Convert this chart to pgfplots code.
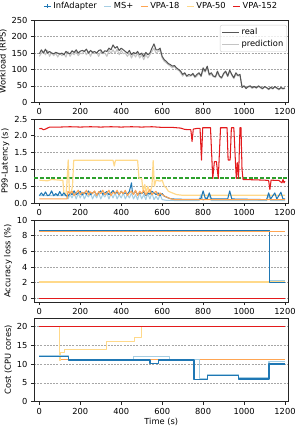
\documentclass[border=0pt]{standalone}
\usepackage{pgfplots}
\pgfplotsset{compat=1.18}
\usepackage{fontspec}
\setmainfont{DejaVu Sans}
\definecolor{cInf}{HTML}{1F77B4}
\definecolor{cMS}{HTML}{A6CEE3}
\definecolor{cV18}{HTML}{FFA552}
\definecolor{cV50}{HTML}{FFD98A}
\definecolor{cV152}{HTML}{E31A1C}
\definecolor{cGreen}{HTML}{2CA02C}
\definecolor{cReal}{HTML}{555555}
\definecolor{cPred}{HTML}{C4C4C4}
\pgfplotsset{
  panel/.style={
    scale only axis, width=254.5pt,
    xmin=-26, xmax=1217,
    xtick={0,200,...,1200},
    tick pos=left, tick align=outside, major tick length=3pt,
    ymajorgrids,
    grid style={dash pattern=on 2pt off 1.2pt, black!35, line width=0.6pt},
    axis line style={black!85, line width=0.7pt},
    every tick/.style={black!85, line width=0.7pt},
    /pgf/number format/assume math mode=true,
    /pgf/number format/1000 sep={},
    ylabel style={yshift=-2pt},
    every axis plot/.append style={line width=1.05pt, line join=round},
  }
}
\begin{document}
\begin{tikzpicture}[font=\fontsize{8.3}{10}\selectfont]
\useasboundingbox (0,0) rectangle (297pt,-428pt);

% ---------- Panel 1: workload
\begin{axis}[panel, at={(34pt,-20.3pt)}, anchor=north west, height=82pt,
  ymin=0, ymax=250, ytick={0,50,...,250},
  ylabel={Workload (RPS)},
  legend style={at={(0.994,0.943)}, anchor=north east, draw=black!20, rounded corners=2pt,
    fill=white, fill opacity=0.8, text opacity=1, inner sep=1.5pt, row sep=0pt},
  legend cell align=left, reverse legend,
  legend image code/.code={\draw[#1] (0pt,0pt) -- (17pt,0pt);},
]
\addplot[cPred] coordinates {
(0,140)(10,150)(20,155)(30,145)(40,158)(50,140)(60,152)(70,142)(80,150)(90,138)
(100,150)(110,142)(120,148)(130,138)(140,155)(150,140)(160,150)(170,145)(180,155)(190,142)
(200,150)(210,148)(220,158)(230,145)(240,155)(250,140)(260,155)(270,148)(280,152)(290,140)
(300,155)(310,148)(320,150)(330,140)(340,158)(350,150)(360,160)(370,150)(380,162)(390,145)
(400,158)(410,148)(420,150)(430,140)(440,150)(450,135)(460,148)(470,138)(480,150)(490,135)
(500,145)(510,130)(520,145)(530,135)(540,145)(550,155)(560,165)(570,150)(580,155)(590,158)
(600,135)(610,125)(620,120)(630,115)(640,110)(650,105)(660,110)(670,100)(680,98)(690,90)
(700,80)(710,88)(720,78)(730,80)(740,80)(750,85)(760,75)(770,80)(780,88)(790,78)
(800,98)(810,92)(820,105)(830,82)(840,85)(850,78)(860,75)(870,90)(880,78)(890,72)
(900,85)(910,92)(920,78)(930,95)(940,82)(950,72)(960,85)(970,80)(980,82)(990,50)
(1000,48)(1010,45)(1020,46)(1030,48)(1040,42)(1050,47)(1060,43)(1070,48)(1080,44)(1090,40)
(1100,46)(1110,44)(1120,38)(1130,44)(1140,40)(1150,46)(1160,42)(1170,38)(1180,43)(1190,40)(1200,42)
};
\addlegendentry{prediction}
\addplot[cReal] coordinates {
(0,148)(10,160)(20,150)(30,162)(40,150)(50,155)(60,150)(70,148)(80,152)(90,150)
(100,147)(110,150)(120,145)(130,155)(140,150)(150,148)(160,157)(170,152)(180,160)(190,150)
(200,156)(210,158)(220,155)(230,162)(240,150)(250,158)(260,152)(270,155)(280,150)(290,158)
(300,160)(310,150)(320,157)(330,155)(340,165)(350,160)(360,175)(370,165)(380,170)(390,158)
(400,165)(410,160)(420,155)(430,150)(440,158)(450,145)(460,152)(470,148)(480,155)(490,145)
(500,150)(510,140)(520,152)(530,145)(540,150)(550,165)(560,178)(570,160)(580,160)(590,165)
(600,140)(610,130)(620,125)(630,118)(640,115)(650,110)(660,112)(670,105)(680,100)(690,95)
(700,85)(710,90)(720,80)(730,85)(740,82)(750,88)(760,78)(770,85)(780,90)(790,80)
(800,105)(810,95)(820,110)(830,85)(840,90)(850,80)(860,78)(870,95)(880,80)(890,75)
(900,88)(910,95)(920,80)(930,98)(940,85)(950,75)(960,90)(970,82)(980,85)(990,45)
(1000,50)(1010,42)(1020,48)(1030,50)(1040,45)(1050,48)(1060,44)(1070,50)(1080,46)(1090,42)
(1100,48)(1110,45)(1120,40)(1130,46)(1140,42)(1150,48)(1160,44)(1170,40)(1180,45)(1190,42)(1200,44)
};
\addlegendentry{real}
\end{axis}

% ---------- Panel 2: latency
\begin{axis}[panel, at={(34pt,-119pt)}, anchor=north west, height=84pt,
  ymin=0, ymax=2.5, ytick={0,0.5,...,2.5},
  yticklabel style={/pgf/number format/.cd, fixed, fixed zerofill, precision=1},
  ylabel={P99-Latency (s)},
  legend style={at={(0.5,2.345)}, anchor=center, draw=none, fill=none,
    /tikz/every even column/.append style={column sep=5pt}},
  legend columns=5,
  legend image code/.code={\draw[mark repeat=2,mark phase=2,#1] plot coordinates {(0pt,0pt) (3.5pt,0pt) (7pt,0pt)};},
]
\addlegendimage{cInf, line width=1pt, mark=+, mark size=1.6pt}
\addlegendentry{InfAdapter}
\addlegendimage{cMS, line width=1pt}
\addlegendentry{MS+}
\addlegendimage{cV18, line width=1pt}
\addlegendentry{VPA-18}
\addlegendimage{cV50, line width=1pt}
\addlegendentry{VPA-50}
\addlegendimage{cV152, line width=1pt}
\addlegendentry{VPA-152}
\addplot[cGreen, dash pattern=on 4pt off 1.8pt, line width=1.4pt, forget plot] coordinates {(-26,0.75)(1217,0.75)};
\addplot[cV50, line width=1.2pt, forget plot] coordinates {
(0,0.68)(40,0.66)(60,0.7)(100,0.68)(115,0.68)(120,0.3)(130,0.25)(135,0.6)(141,1.28)(147,0.35)
(155,0.3)(162,0.5)(168,1.27)(250,1.27)(360,1.27)(366,1.1)(372,1.27)(480,1.27)(487,0.73)(500,0.73)
(507,0.35)(515,0.55)(522,0.3)(530,0.5)(540,0.3)(550,0.5)(556,1.26)(562,0.5)(570,0.68)(590,0.65)
(600,0.68)(610,0.5)(620,0.45)(630,0.35)(650,0.3)(670,0.25)(700,0.23)(1200,0.23)
};
\addplot[cV152, forget plot] coordinates {
(0,2.21)(10,2.22)(20,2.18)(30,2.2)(50,2.26)(100,2.26)(150,2.27)(200,2.26)(250,2.27)(300,2.26)
(350,2.27)(400,2.26)(450,2.27)(500,2.26)(550,2.27)(600,2.25)(650,2.25)(690,2.23)(710,2.19)(740,2.18)
(746,1.83)(752,2.2)(770,2.22)(785,2.22)(792,1.28)(798,2.24)(836,2.24)(847,0.73)(855,1.23)(865,1.23)
(874,0.73)(885,2.24)(917,2.24)(922,1.28)(932,1.28)(938,2.24)(950,2.24)(958,1.2)(962,0.73)(967,1.2)
(973,0.73)(980,2.24)(985,2.24)(990,1.0)(995,0.7)(1050,0.69)(1100,0.68)(1120,0.67)(1126,0.4)(1132,0.68)
(1170,0.67)(1185,0.6)(1190,0.7)(1195,0.6)(1200,0.65)
};
\addplot[cMS, forget plot] coordinates {
(0,0.22)(130,0.22)(140,0.12)(150,0.25)(160,0.15)(170,0.3)(180,0.12)(190,0.28)(200,0.15)(210,0.3)
(220,0.12)(230,0.25)(240,0.18)(250,0.3)(260,0.12)(270,0.26)(280,0.15)(290,0.3)(300,0.12)(310,0.25)
(320,0.18)(330,0.3)(340,0.12)(350,0.28)(360,0.15)(370,0.3)(380,0.12)(390,0.25)(400,0.15)(410,0.3)
(420,0.12)(430,0.25)(440,0.15)(450,0.3)(460,0.12)(470,0.25)(480,0.1)(490,0.3)(500,0.12)(510,0.25)
(520,0.1)(530,0.28)(540,0.12)(550,0.3)(560,0.1)(570,0.2)(580,0.1)(590,0.25)(600,0.1)(620,0.08)
(700,0.07)(780,0.07)(790,0.25)(800,0.08)(830,0.22)(840,0.07)(1110,0.07)(1120,0.22)(1130,0.07)(1200,0.07)
};
\addplot[cInf, forget plot] coordinates {
(0,0.22)(10,0.3)(20,0.22)(30,0.33)(40,0.22)(50,0.24)(60,0.36)(70,0.22)(80,0.28)(90,0.22)
(100,0.34)(110,0.22)(120,0.3)(130,0.22)(140,0.2)(150,0.3)(160,0.25)(170,0.36)(180,0.25)(190,0.3)
(200,0.35)(210,0.24)(220,0.32)(230,0.26)(240,0.36)(250,0.25)(260,0.3)(270,0.34)(280,0.24)(290,0.3)
(300,0.36)(310,0.26)(320,0.3)(330,0.34)(340,0.25)(350,0.3)(360,0.37)(370,0.28)(380,0.32)(390,0.25)
(400,0.35)(410,0.28)(420,0.3)(430,0.26)(440,0.35)(450,0.6)(455,0.3)(460,0.28)(470,0.35)(480,0.25)
(490,0.3)(500,0.28)(510,0.33)(520,0.22)(530,0.3)(540,0.26)(550,0.35)(560,0.3)(570,0.25)(580,0.3)
(590,0.22)(600,0.28)(610,0.2)(620,0.18)(630,0.15)(640,0.13)(650,0.12)(700,0.11)(780,0.11)(790,0.14)
(800,0.36)(810,0.15)(820,0.12)(830,0.3)(840,0.12)(920,0.12)(930,0.36)(940,0.12)(1110,0.1)(1120,0.3)
(1130,0.12)(1150,0.3)(1160,0.12)(1180,0.32)(1190,0.12)(1200,0.12)
};
\addplot[cV18, forget plot] coordinates {
(0,0.12)(135,0.12)(140,0.35)(150,0.28)(160,0.35)(170,0.22)(180,0.3)(190,0.38)(200,0.25)(210,0.32)
(220,0.28)(230,0.38)(240,0.24)(250,0.33)(260,0.28)(270,0.36)(280,0.22)(290,0.34)(300,0.28)(310,0.38)
(320,0.25)(330,0.3)(340,0.38)(350,0.22)(360,0.32)(370,0.28)(380,0.38)(390,0.25)(400,0.34)(410,0.28)
(420,0.38)(430,0.22)(440,0.3)(450,0.35)(460,0.25)(470,0.38)(480,0.22)(490,0.35)(500,0.28)(510,0.38)
(520,0.24)(530,0.32)(540,0.4)(550,0.25)(560,0.3)(570,0.35)(580,0.22)(590,0.3)(600,0.25)(620,0.18)
(640,0.13)(660,0.1)(1200,0.1)
};
\end{axis}

% ---------- Panel 3: accuracy loss
\begin{axis}[panel, at={(34pt,-220pt)}, anchor=north west, height=82pt,
  ymin=-0.45, ymax=10, ytick={0,2,...,10},
  ylabel={Accuracy loss (\%)},
]
\addplot[cV152] coordinates {(0,0)(1200,0)};
\addplot[cV50] coordinates {(0,2.1)(1200,2.1)};
\addplot[cMS] coordinates {(0,8.65)(1122,8.65)(1122,2.3)(1200,2.3)};
\addplot[cInf] coordinates {(0,8.7)(1122,8.7)(1122,2.05)(1200,2.05)};
\addplot[cV18] coordinates {(0,8.55)(1200,8.55)};
\end{axis}

% ---------- Panel 4: cost
\begin{axis}[panel, at={(34pt,-318pt)}, anchor=north west, height=83.7pt,
  ymin=0, ymax=22.3, ytick={0,5,...,20},
  ylabel={Cost (CPU cores)},
  xlabel={Time (s)}, xlabel style={yshift=3pt},
]
\addplot[cV18] coordinates {(0,20)(100,20)(100,11.3)(1200,11.3)};
\addplot[cV50] coordinates {(0,20)(98,20)(98,11)(105,11)(105,13)(125,13)(125,14)(329,14)(329,16)(467,16)(467,17)(500,17)(500,20)(1200,20)};
\addplot[cV152] coordinates {(0,20)(1200,20)};
\addplot[cMS, line width=1.3pt] coordinates {(0,12.2)(142,12.2)(142,11.2)(459,11.2)(459,12)(635,12)(635,11.2)(781,11.2)(781,6.2)(820,6.2)(820,7.2)(972,7.2)(972,6.3)(1122,6.3)(1122,10.7)(1200,10.7)};
\addplot[cInf, line width=1.4pt] coordinates {(0,12)(142,12)(142,11.1)(540,11.1)(540,10.2)(581,10.2)(581,11.1)(755,11.1)(755,5.9)(820,5.9)(820,7)(972,7)(972,6)(1122,6)(1122,10)(1200,10)};
\end{axis}
\end{tikzpicture}
\end{document}
